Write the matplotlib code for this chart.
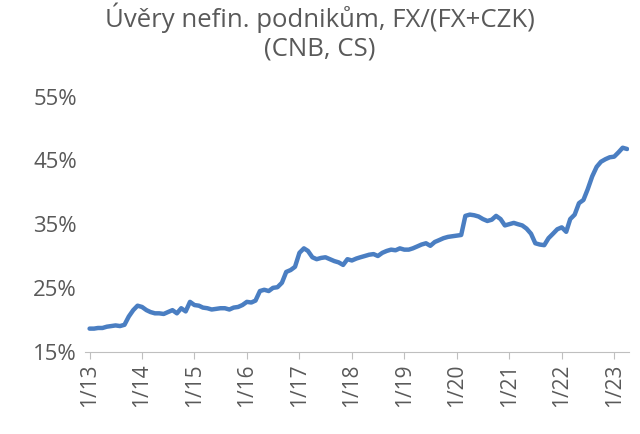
import matplotlib
matplotlib.use("Agg")
import matplotlib.pyplot as plt
import numpy as np
import pandas as pd

plt.rcParams['font.family'] = ['Open Sans', 'DejaVu Sans']

y2013 = [18.6,18.6,18.7,18.7,18.9,19.0,19.1,19.0,19.2,20.5,21.5,22.2]
y2014 = [22.0,21.5,21.2,21.0,21.0,20.9,21.2,21.5,21.0,21.8,21.3,22.8]
y2015 = [22.3,22.2,21.9,21.8,21.6,21.7,21.8,21.8,21.6,21.9,22.0,22.3]
y2016 = [22.8,22.7,23.0,24.5,24.7,24.5,25.0,25.1,25.8,27.5,27.8,28.3]
y2017 = [30.5,31.2,30.8,29.8,29.5,29.7,29.8,29.5,29.2,29.0,28.6,29.5]
y2018 = [29.3,29.6,29.8,30.0,30.2,30.3,30.0,30.5,30.8,31.0,30.9,31.2]
y2019 = [31.0,31.0,31.2,31.5,31.8,32.0,31.6,32.2,32.5,32.8,33.0,33.1]
y2020 = [33.2,33.3,36.3,36.5,36.4,36.2,35.8,35.5,35.7,36.3,35.8,34.8]
y2021 = [35.0,35.2,35.0,34.8,34.3,33.5,32.0,31.8,31.7,32.8,33.5,34.2]
y2022 = [34.5,33.8,35.8,36.5,38.3,38.8,40.5,42.5,44.0,44.8,45.2,45.5]
y2023 = [45.6,46.3,47.0,46.8]

values = y2013+y2014+y2015+y2016+y2017+y2018+y2019+y2020+y2021+y2022+y2023
dates = pd.date_range("2013-01-01", periods=len(values), freq="MS")
tick_labels = [f"1/{y:02d}" for y in range(13, 24)]
tick_dates = pd.to_datetime([f"20{y:02d}-01-01" for y in range(13, 24)])

fig = plt.figure(figsize=(6.4, 4.34), dpi=100)
ax = fig.add_axes([0.133, 0.19, 0.85, 0.587])
ax.plot(dates, values, color="#4A7EC2", lw=3.2, solid_capstyle="round")
ax.set_ylim(15, 55)
ax.set_yticks([15, 25, 35, 45, 55])
ax.set_yticklabels(["15%", "25%", "35%", "45%", "55%"])
ax.set_xlim(pd.Timestamp("2012-12-01"), pd.Timestamp("2023-04-15"))
ax.set_xticks(tick_dates)
ax.set_xticklabels(tick_labels, rotation=90)
for s in ["top", "right", "left"]:
    ax.spines[s].set_visible(False)
ax.spines["bottom"].set_color("#BFBFBF")
ax.tick_params(axis="y", length=0, labelsize=16, colors="#595959", pad=6)
ax.tick_params(axis="x", length=5, labelsize=15, colors="#595959", color="#BFBFBF")
fig.suptitle("Úvěry nefin. podnikům, FX/(FX+CZK)\n(CNB, CS)", fontsize=18.5, color="#595959", y=0.995)
fig.savefig("out.png", dpi=100)
